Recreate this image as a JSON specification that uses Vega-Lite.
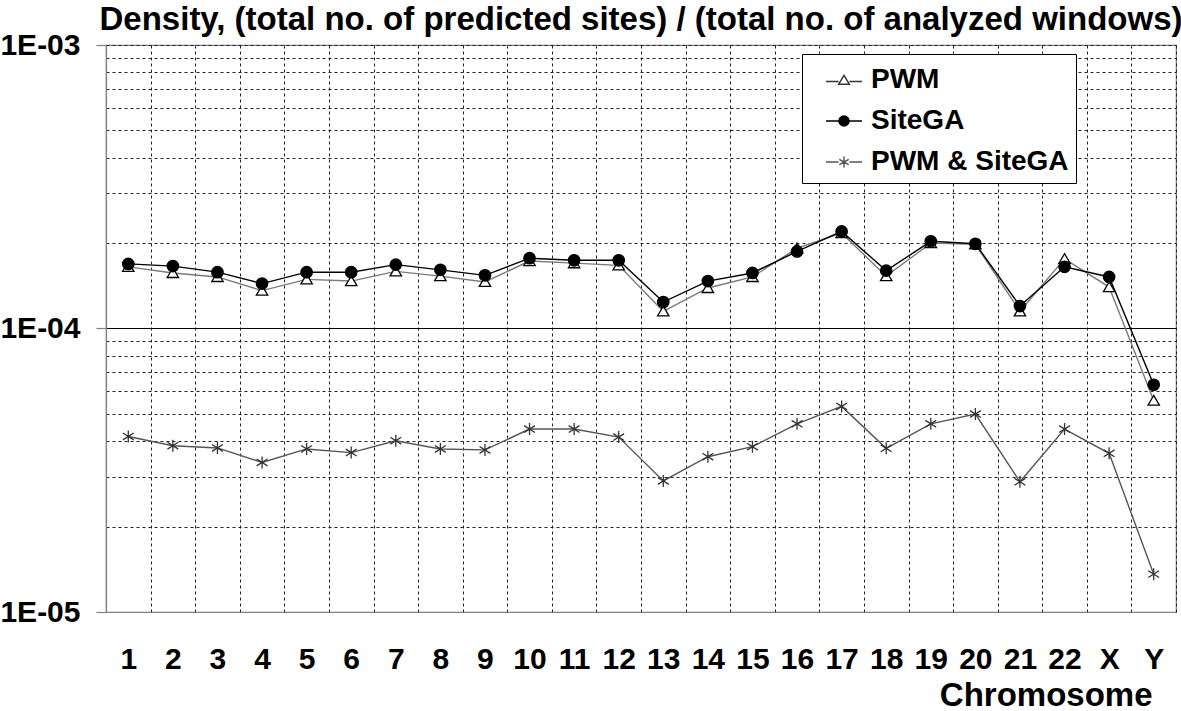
{
  "$schema": "https://vega.github.io/schema/vega-lite/v6.json",
  "autosize": {"type": "none"},
  "width": 1070,
  "height": 567,
  "padding": {"left": 106, "top": 45, "right": 5, "bottom": 99},
  "config": {
    "font": "Liberation Sans",
    "view": {"stroke": "#808080", "strokeWidth": 1.2},
    "legend": {
      "orient": "none",
      "legendX": 696,
      "legendY": 9,
      "padding": 7,
      "symbolOffset": 16,
      "labelOffset": 8,
      "rowPadding": 8,
      "symbolSize": 1296,
      "symbolOpacity": 1,
      "symbolStrokeWidth": 1.4,
      "labelFont": "Liberation Sans",
      "labelFontSize": 28,
      "labelFontWeight": "bold",
      "labelColor": "#000000",
      "labelLimit": 500,
      "titleOrient": "right",
      "titlePadding": 0,
      "titleFont": "Liberation Sans",
      "titleFontSize": 28,
      "strokeColor": "#000000",
      "fillColor": "#ffffff"
    }
  },
  "title": {
    "text": "Density, (total no. of predicted sites) / (total no. of analyzed windows)",
    "font": "Liberation Sans",
    "fontSize": 33,
    "fontWeight": "bold",
    "color": "#000000",
    "anchor": "middle",
    "frame": "group",
    "baseline": "alphabetic",
    "offset": -33
  },
  "data": {
    "values": [
      {"chr": "1", "series": "PWM", "density": 1.65e-4},
      {"chr": "2", "series": "PWM", "density": 1.57e-4},
      {"chr": "3", "series": "PWM", "density": 1.52e-4},
      {"chr": "4", "series": "PWM", "density": 1.36e-4},
      {"chr": "5", "series": "PWM", "density": 1.49e-4},
      {"chr": "6", "series": "PWM", "density": 1.47e-4},
      {"chr": "7", "series": "PWM", "density": 1.59e-4},
      {"chr": "8", "series": "PWM", "density": 1.53e-4},
      {"chr": "9", "series": "PWM", "density": 1.46e-4},
      {"chr": "10", "series": "PWM", "density": 1.73e-4},
      {"chr": "11", "series": "PWM", "density": 1.70e-4},
      {"chr": "12", "series": "PWM", "density": 1.67e-4},
      {"chr": "13", "series": "PWM", "density": 1.15e-4},
      {"chr": "14", "series": "PWM", "density": 1.39e-4},
      {"chr": "15", "series": "PWM", "density": 1.52e-4},
      {"chr": "16", "series": "PWM", "density": 1.92e-4},
      {"chr": "17", "series": "PWM", "density": 2.17e-4},
      {"chr": "18", "series": "PWM", "density": 1.53e-4},
      {"chr": "19", "series": "PWM", "density": 2.00e-4},
      {"chr": "20", "series": "PWM", "density": 1.98e-4},
      {"chr": "21", "series": "PWM", "density": 1.15e-4},
      {"chr": "22", "series": "PWM", "density": 1.76e-4},
      {"chr": "X", "series": "PWM", "density": 1.40e-4},
      {"chr": "Y", "series": "PWM", "density": 5.57e-5},
      {"chr": "1", "series": "SiteGA", "density": 1.69e-4},
      {"chr": "2", "series": "SiteGA", "density": 1.66e-4},
      {"chr": "3", "series": "SiteGA", "density": 1.58e-4},
      {"chr": "4", "series": "SiteGA", "density": 1.44e-4},
      {"chr": "5", "series": "SiteGA", "density": 1.58e-4},
      {"chr": "6", "series": "SiteGA", "density": 1.58e-4},
      {"chr": "7", "series": "SiteGA", "density": 1.68e-4},
      {"chr": "8", "series": "SiteGA", "density": 1.61e-4},
      {"chr": "9", "series": "SiteGA", "density": 1.54e-4},
      {"chr": "10", "series": "SiteGA", "density": 1.77e-4},
      {"chr": "11", "series": "SiteGA", "density": 1.74e-4},
      {"chr": "12", "series": "SiteGA", "density": 1.74e-4},
      {"chr": "13", "series": "SiteGA", "density": 1.24e-4},
      {"chr": "14", "series": "SiteGA", "density": 1.47e-4},
      {"chr": "15", "series": "SiteGA", "density": 1.57e-4},
      {"chr": "16", "series": "SiteGA", "density": 1.87e-4},
      {"chr": "17", "series": "SiteGA", "density": 2.20e-4},
      {"chr": "18", "series": "SiteGA", "density": 1.60e-4},
      {"chr": "19", "series": "SiteGA", "density": 2.03e-4},
      {"chr": "20", "series": "SiteGA", "density": 1.99e-4},
      {"chr": "21", "series": "SiteGA", "density": 1.20e-4},
      {"chr": "22", "series": "SiteGA", "density": 1.65e-4},
      {"chr": "X", "series": "SiteGA", "density": 1.52e-4},
      {"chr": "Y", "series": "SiteGA", "density": 6.33e-5},
      {"chr": "1", "series": "PWM & SiteGA", "density": 4.16e-5},
      {"chr": "2", "series": "PWM & SiteGA", "density": 3.86e-5},
      {"chr": "3", "series": "PWM & SiteGA", "density": 3.79e-5},
      {"chr": "4", "series": "PWM & SiteGA", "density": 3.37e-5},
      {"chr": "5", "series": "PWM & SiteGA", "density": 3.76e-5},
      {"chr": "6", "series": "PWM & SiteGA", "density": 3.65e-5},
      {"chr": "7", "series": "PWM & SiteGA", "density": 4.02e-5},
      {"chr": "8", "series": "PWM & SiteGA", "density": 3.76e-5},
      {"chr": "9", "series": "PWM & SiteGA", "density": 3.73e-5},
      {"chr": "10", "series": "PWM & SiteGA", "density": 4.42e-5},
      {"chr": "11", "series": "PWM & SiteGA", "density": 4.42e-5},
      {"chr": "12", "series": "PWM & SiteGA", "density": 4.14e-5},
      {"chr": "13", "series": "PWM & SiteGA", "density": 2.90e-5},
      {"chr": "14", "series": "PWM & SiteGA", "density": 3.53e-5},
      {"chr": "15", "series": "PWM & SiteGA", "density": 3.83e-5},
      {"chr": "16", "series": "PWM & SiteGA", "density": 4.61e-5},
      {"chr": "17", "series": "PWM & SiteGA", "density": 5.31e-5},
      {"chr": "18", "series": "PWM & SiteGA", "density": 3.78e-5},
      {"chr": "19", "series": "PWM & SiteGA", "density": 4.61e-5},
      {"chr": "20", "series": "PWM & SiteGA", "density": 4.99e-5},
      {"chr": "21", "series": "PWM & SiteGA", "density": 2.88e-5},
      {"chr": "22", "series": "PWM & SiteGA", "density": 4.42e-5},
      {"chr": "X", "series": "PWM & SiteGA", "density": 3.63e-5},
      {"chr": "Y", "series": "PWM & SiteGA", "density": 1.36e-5}
    ]
  },
  "encoding": {
    "x": {
      "field": "chr",
      "type": "ordinal",
      "bandPosition": 0.5,
      "scale": {
        "type": "band",
        "paddingInner": 0,
        "paddingOuter": 0,
        "domain": ["1","2","3","4","5","6","7","8","9","10","11","12","13","14","15","16","17","18","19","20","21","22","X","Y"]
      },
      "axis": {
        "title": "Chromosome",
        "titleFont": "Liberation Sans",
        "titleFontSize": 33,
        "titleFontWeight": "bold",
        "titleColor": "#000000",
        "titleAlign": "right",
        "titleBaseline": "alphabetic",
        "titleX": 1046,
        "titleY": 93,
        "labelAngle": 0,
        "labelFont": "Liberation Sans",
        "labelFontSize": 30,
        "labelFontWeight": "bold",
        "labelColor": "#000000",
        "labelPadding": 32,
        "ticks": false,
        "tickSize": 0,
        "tickBand": "extent",
        "grid": true,
        "gridDash": [3, 3],
        "gridColor": "#222222",
        "gridWidth": 1,
        "domainColor": "#808080",
        "domainWidth": 1.2
      }
    },
    "y": {
      "field": "density",
      "type": "quantitative",
      "scale": {"type": "log", "domain": [1e-5, 1e-3], "nice": false},
      "axis": {
        "title": null,
        "values": [1e-5, 2e-5, 3e-5, 4e-5, 5e-5, 6e-5, 7e-5, 8e-5, 9e-5, 1e-4, 2e-4, 3e-4, 4e-4, 5e-4, 6e-4, 7e-4, 8e-4, 9e-4, 1e-3],
        "labelExpr": "datum.value == 0.001 ? '1E-03' : datum.value == 0.0001 ? '1E-04' : datum.value == 0.00001 ? '1E-05' : ''",
        "labelFont": "Liberation Sans",
        "labelFontSize": 30,
        "labelFontWeight": "bold",
        "labelColor": "#000000",
        "labelPadding": 16,
        "labelOverlap": false,
        "labelFlush": false,
        "tickSize": 10,
        "tickColor": "#808080",
        "tickWidth": 1.2,
        "tickOpacity": {"condition": {"test": "datum.value == 0.001 || datum.value == 0.0001 || datum.value == 0.00001", "value": 1}, "value": 0},
        "grid": true,
        "gridDash": {"condition": {"test": "datum.value == 0.0001", "value": []}, "value": [3, 3]},
        "gridColor": {"condition": {"test": "datum.value == 0.0001", "value": "#000000"}, "value": "#222222"},
        "gridWidth": 1,
        "domainColor": "#808080",
        "domainWidth": 1.2
      }
    }
  },
  "resolve": {"scale": {"shape": "independent", "fill": "independent", "stroke": "independent"}},
  "layer": [
    {
      "mark": {"type": "line", "strokeWidth": 1.4},
      "encoding": {
        "color": {
          "field": "series",
          "type": "nominal",
          "scale": {"domain": ["SiteGA", "PWM", "PWM & SiteGA"], "range": ["#000000", "#7a7a7a", "#555555"]},
          "legend": null
        },
        "detail": {"field": "series"}
      }
    },
    {
      "mark": {"type": "point", "opacity": 1, "size": 130, "strokeWidth": 1.3},
      "encoding": {
        "shape": {
          "field": "series",
          "type": "nominal",
          "scale": {
            "domain": ["PWM", "SiteGA", "PWM & SiteGA"],
            "range": [
              "M0,-0.9L1,0.8L-1,0.8Z",
              "M-1,0A1,1 0 1,0 1,0A1,1 0 1,0 -1,0Z",
              "M0,-1.05V1.05M-0.95,-0.6L0.95,0.6M-0.95,0.6L0.95,-0.6"
            ]
          },
          "legend": null
        },
        "fill": {
          "field": "series",
          "type": "nominal",
          "scale": {"domain": ["PWM", "SiteGA", "PWM & SiteGA"], "range": ["#ffffff", "#000000", "transparent"]},
          "legend": null
        },
        "stroke": {
          "field": "series",
          "type": "nominal",
          "scale": {"domain": ["PWM", "SiteGA", "PWM & SiteGA"], "range": ["#000000", "#000000", "#333333"]},
          "legend": null
        }
      }
    },
    {
      "mark": {"type": "point", "opacity": 0, "size": 10},
      "encoding": {
        "shape": {
          "field": "series",
          "type": "nominal",
          "scale": {
            "domain": ["PWM", "SiteGA", "PWM & SiteGA"],
            "range": [
              "M-1,0.08H-0.3M0.3,0.08H1M0,-0.26L0.3,0.24L-0.3,0.24Z",
              "M-1,0H-0.28M0.28,0H1M-0.28,0A0.28,0.28 0 1,0 0.28,0A0.28,0.28 0 1,0 -0.28,0Z",
              "M-1,0H-0.3M0.3,0H1M0,-0.3V0.3M-0.26,-0.15L0.26,0.15M-0.26,0.15L0.26,-0.15"
            ]
          },
          "legend": {"title": "\u00a0\u00a0\u00a0"}
        },
        "fill": {
          "field": "series",
          "type": "nominal",
          "scale": {"domain": ["PWM", "SiteGA", "PWM & SiteGA"], "range": ["#ffffff", "#000000", "transparent"]},
          "legend": {"title": "\u00a0\u00a0\u00a0"}
        },
        "stroke": {
          "field": "series",
          "type": "nominal",
          "scale": {"domain": ["PWM", "SiteGA", "PWM & SiteGA"], "range": ["#333333", "#000000", "#555555"]},
          "legend": {"title": "\u00a0\u00a0\u00a0"}
        }
      }
    }
  ]
}
